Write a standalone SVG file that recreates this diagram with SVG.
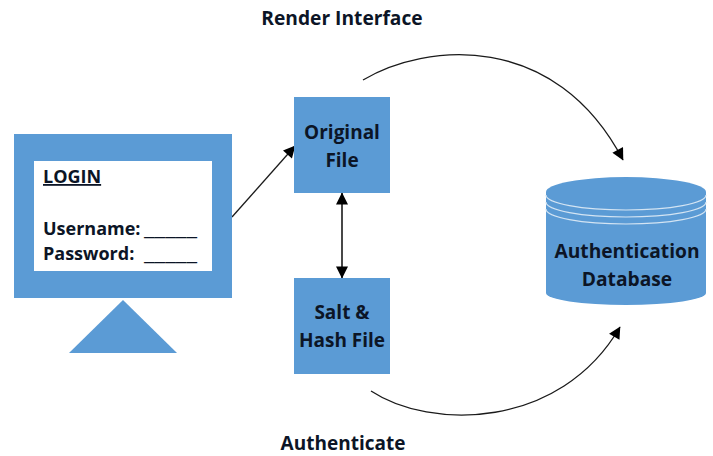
<svg xmlns="http://www.w3.org/2000/svg" width="713" height="456" viewBox="0 0 713 456">
<style>
.s{fill:#5b9bd5}
text{font-family:"Open Sans","Liberation Sans",sans-serif;font-weight:700;fill:#0c1526;font-size:19px}
.m{text-anchor:middle}
.f{font-size:18px}
.c{fill:none;stroke:#1a1a1a;stroke-width:1.3}
.d{fill:none;stroke:#d3e4f3;stroke-width:1.2}
</style>
<defs>
<marker id="a" viewBox="0 0 10 10" refX="9.5" refY="5" markerWidth="13" markerHeight="12" markerUnits="userSpaceOnUse" orient="auto-start-reverse"><path d="M0 0L10 5L0 10z" fill="#000"/></marker>
</defs>
<rect width="713" height="456" fill="#fff"/>
<g id="connectors">
<path class="c" marker-end="url(#a)" d="M232 217L295 146"/>
<path class="c" marker-start="url(#a)" marker-end="url(#a)" style="stroke-width:1.6" d="M342 193V278"/>
<path class="c" marker-end="url(#a)" d="M363 80C425 43 555 30 623 160"/>
<path class="c" marker-end="url(#a)" d="M371 391C430 430 560 430 620 327"/>
</g>
<g id="monitor">
<rect class="s" x="14" y="134" width="218" height="164"/>
<rect x="34" y="161" width="178" height="110" fill="#fff"/>
<path class="s" d="M123 300L177 353H69z"/>
<text class="f" x="43" y="183" text-decoration="underline">LOGIN</text>
<text class="f" x="43" y="235">Username:</text>
<text class="f" x="144" y="235" textLength="53" lengthAdjust="spacingAndGlyphs">_____</text>
<text class="f" x="43" y="260">Password:</text>
<text class="f" x="144" y="260" textLength="53" lengthAdjust="spacingAndGlyphs">_____</text>
</g>
<g id="original-file">
<rect class="s" x="294" y="97" width="96" height="96"/>
<text class="m" x="342" y="139">Original</text>
<text class="m" x="342" y="167">File</text>
</g>
<g id="salt-hash-file">
<rect class="s" x="294" y="278" width="96" height="96"/>
<text class="m" x="342" y="319">Salt &amp;</text>
<text class="m" x="342" y="347">Hash File</text>
</g>
<g id="authentication-database">
<path class="s" d="M546 192A80 15 0 0 1 706 192V293A80 12 0 0 1 546 293z"/>
<path class="d" d="M546 195A80 15 0 0 0 706 195M546 202A80 15 0 0 0 706 202M546 209A80 15 0 0 0 706 209"/>
<text class="m" x="627" y="258" style="font-size:19.2px">Authentication</text>
<text class="m" x="627" y="286" style="font-size:19.2px">Database</text>
</g>
<g id="labels">
<text class="m" x="342" y="25" style="font-size:19.2px">Render Interface</text>
<text class="m" x="343" y="450">Authenticate</text>
</g>
</svg>
